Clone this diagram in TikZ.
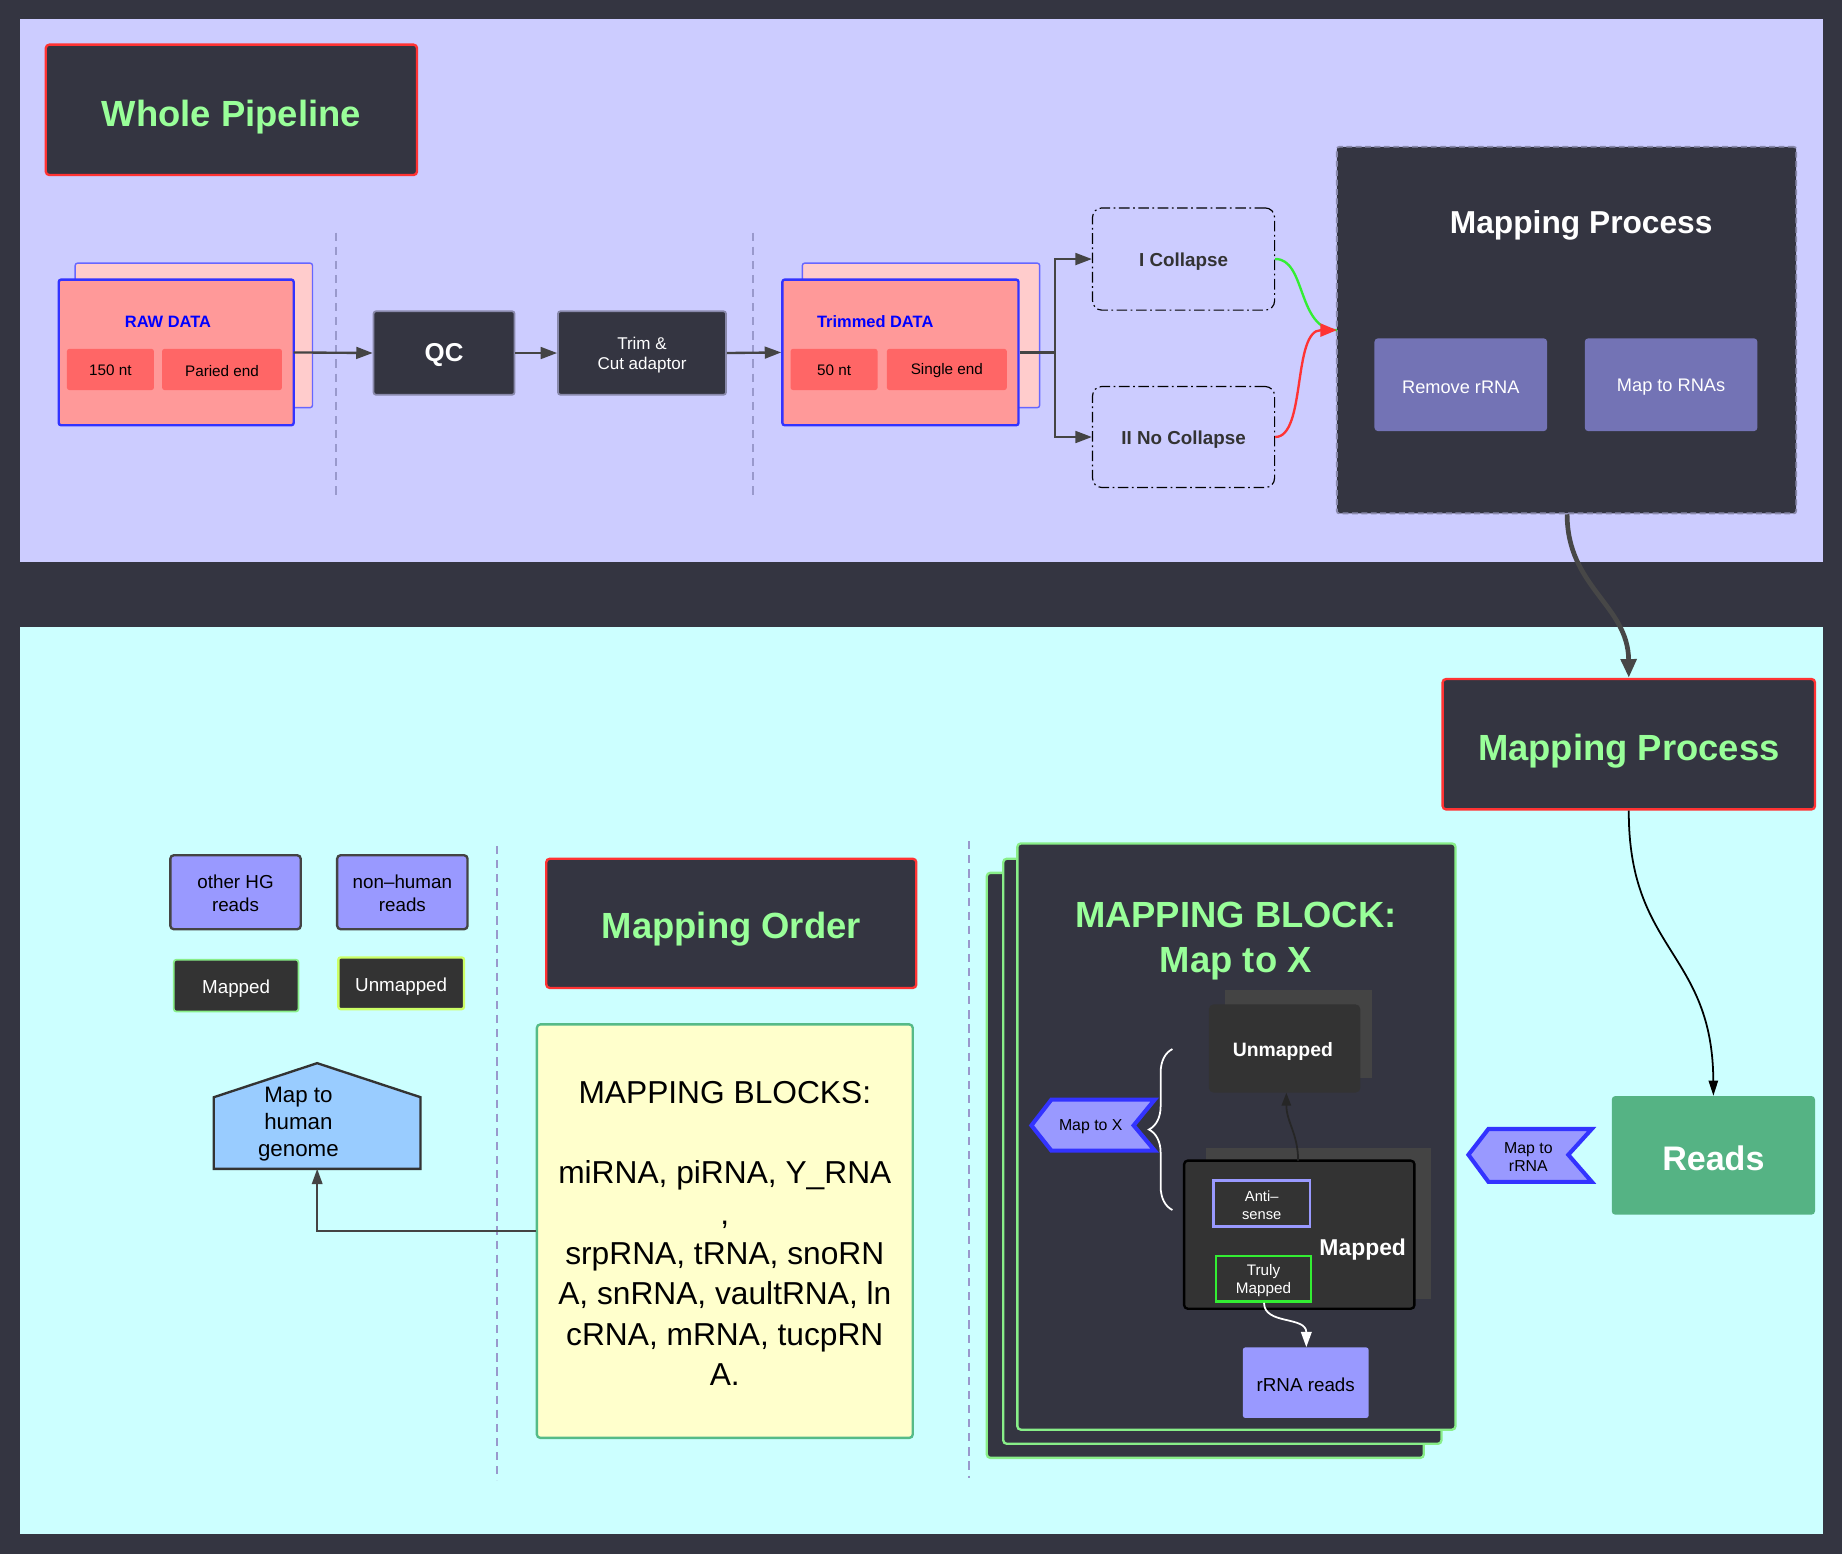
\documentclass[tikz,border=0pt]{standalone}
\usepackage{fontspec}
\setmainfont{Liberation Sans}
\usetikzlibrary{arrows.meta,fit,decorations.pathreplacing}
\definecolor{bgdark}{HTML}{343541}
\definecolor{lav}{HTML}{CCCCFF}
\definecolor{cyanbg}{HTML}{CCFFFF}
\definecolor{redb}{HTML}{FF3333}
\definecolor{greent}{HTML}{99FF99}
\definecolor{salmon}{HTML}{FF9999}
\definecolor{salmonin}{HTML}{FF6666}
\definecolor{pinkl}{HTML}{FFCCCC}
\definecolor{blueb}{HTML}{3333FF}
\definecolor{bluel}{HTML}{6666FF}
\definecolor{qcb}{HTML}{8888AA}
\definecolor{slate}{HTML}{7373B5}
\definecolor{readsg}{HTML}{55B384}
\definecolor{violet}{HTML}{9999FF}
\definecolor{mbgreen}{HTML}{88EE88}
\definecolor{gray3}{HTML}{333333}
\definecolor{gray4}{HTML}{444444}
\definecolor{sky}{HTML}{99CCFF}
\definecolor{paleyel}{HTML}{FFFFCC}
\definecolor{seagreen}{HTML}{55BB88}
\definecolor{dashc}{HTML}{9999CC}
\definecolor{arrc}{HTML}{444444}
\definecolor{limeb}{HTML}{CCFF66}
\definecolor{brightg}{HTML}{33EE33}
\newcommand\fsz[2]{\fontsize{#1}{#2}\selectfont}
\begin{document}
\begin{tikzpicture}[x=1pt,y=-1pt,
  bx/.style={inner sep=0pt, align=center, rectangle},
  lbl/.style={inner sep=0pt, align=center},
  title/.style={bx, fill=bgdark, draw=redb, line width=2pt, rounded corners=3pt},
  card/.style={bx, fill=salmon, draw=blueb, line width=2pt, rounded corners=2pt},
  cardback/.style={bx, fill=pinkl, draw=bluel, line width=1.2pt, rounded corners=2pt},
  chip/.style={bx, fill=salmonin, rounded corners=2pt},
  darkbox/.style={bx, fill=bgdark, draw=qcb, line width=1.5pt, rounded corners=2pt},
  collbox/.style={bx, draw=black, line width=1pt, rounded corners=8pt, dash pattern=on 9pt off 3pt on 1.5pt off 3pt},
  slatebox/.style={bx, fill=slate, rounded corners=3pt},
  arr/.style={draw=arrc, line width=2pt, -{Triangle[length=14pt,width=10pt]}},
  vdash/.style={draw=dashc, line width=1.5pt, dash pattern=on 7pt off 5pt},
  chev/.style={fill=violet, draw=blueb, line width=3.5pt, line join=miter},
  mbstack/.style={bx, fill=bgdark, draw=mbgreen, line width=2pt, rounded corners=3pt},
  legend/.style={bx, fill=violet, draw=gray4, line width=2pt, rounded corners=3pt},
  legdark/.style={bx, fill=gray3, line width=2pt, rounded corners=2pt},
  bigt/.style={lbl, text=greent, font=\bfseries\fsz{31}{39}}
]
\useasboundingbox (0,0) rectangle (1568,1323);
\fill[bgdark] (0,0) rectangle (1568,1323);
\fill[lav] (17,16) rectangle (1552,478);
\fill[cyanbg] (17,534) rectangle (1552,1306);

% ---------------- top panel ----------------
\node[title, fit={(39,38) (355,149)}] (whole) {};
\node[bigt] (wholet) at (197,99.5) {Whole Pipeline};

\draw[vdash] (286,198) coordinate (d1a) -- (286,421) coordinate (d1b);
\draw[vdash] (641,198) coordinate (d2a) -- (641,425) coordinate (d2b);

% raw data
\node[cardback, fit={(64,224) (266,347)}] (rawback) {};
\node[card, fit={(50,238) (250,362)}] (raw) {};
\node[lbl, text=blue, font=\bfseries\fsz{14}{17}] (rawt) at (143,274) {RAW DATA};
\node[chip, fit={(57,297) (131,332)}] (raw150) {};
\node[lbl, font=\fsz{13}{16}] (raw150t) at (94,315.5) {150 nt};
\node[chip, fit={(138,297) (240,332)}] (rawpe) {};
\node[lbl, font=\fsz{13}{16}] (rawpet) at (189,315.5) {Paried end};

\node[darkbox, fit={(318,265) (438,336)}] (qc) {};
\node[lbl, text=white, font=\bfseries\fsz{22}{26}] (qct) at (378,302.5) {QC};
\node[darkbox, fit={(475,265) (618,336)}] (trim) {};
\node[lbl, text=white, font=\fsz{14.5}{17}] (trimt) at (546.5,302) {Trim \&\\Cut adaptor};

% trimmed data
\node[cardback, fit={(683,224) (885,347)}] (trback) {};
\node[card, fit={(666,238) (867,362)}] (tr) {};
\node[lbl, text=blue, font=\bfseries\fsz{14}{17}] (trt) at (745,274) {Trimmed DATA};
\node[chip, fit={(673,297) (747,332)}] (tr50) {};
\node[lbl, font=\fsz{13}{16}] (tr50t) at (710,315.5) {50 nt};
\node[chip, fit={(755,297) (857,332)}] (trse) {};
\node[lbl, font=\fsz{13}{16}] (trset) at (806,315.5) {Single end};

\draw[arr] (250,300) -- (qc.west);
\draw[arr] (qc.east) -- (trim.west);
\draw[arr] (trim.east) -- (tr.west |- 0,300);

% collapse
\node[collbox, fit={(930,177) (1085,264)}] (c1) {};
\node[lbl, text=gray3, font=\bfseries\fsz{16}{19}] (c1t) at (1007.5,222.5) {I Collapse};
\node[collbox, fit={(930,329) (1085,415)}] (c2) {};
\node[lbl, text=gray3, font=\bfseries\fsz{16}{19}] (c2t) at (1007.5,374) {II No Collapse};
\coordinate (split) at (898,300);
\draw[draw=arrc, line width=2pt] (tr.east |- 0,300) -- (split);
\draw[arr] (split) |- (c1.west);
\draw[arr] (split) |- (c2.west);

% mapping process (top)
\node[bx, fill=bgdark, draw=qcb, line width=1.5pt, dash pattern=on 5pt off 3pt, rounded corners=2pt, fit={(1138,125) (1529,437)}] (mp1) {};
\node[lbl, text=white, font=\bfseries\fsz{27}{32}] (mp1t) at (1346,191.5) {Mapping Process};
\node[slatebox, fit={(1170,288) (1317,367)}] (rem) {};
\node[lbl, text=white, font=\fsz{15.5}{19}] (remt) at (1243.5,329.5) {Remove rRNA};
\node[slatebox, fit={(1349,288) (1496,367)}] (maprna) {};
\node[lbl, text=white, font=\fsz{15.5}{19}] (maprnat) at (1422.5,329.5) {Map to RNAs};

\coordinate (mpin) at (1138,281);
\draw[brightg, line width=2pt] (c1.east) .. controls (1112,220) and (1104,281) .. (mpin);
\draw[redb, line width=2pt, -{Triangle[length=14pt,width=11pt]}] (c2.east) .. controls (1112,372) and (1100,281) .. (mpin);

% ---------------- bottom panel ----------------
\node[title, fit={(1228,578) (1545,689)}] (mp2) {};
\node[bigt] (mp2t) at (1386.5,639.5) {Mapping Process};

\draw[draw=gray3!90!white, line width=4pt, -{Triangle[length=16pt,width=13pt]}] (mp1.south -| 1334,0) .. controls (1334,500) and (1386,515) .. (mp2.north);

\node[bx, fill=readsg, rounded corners=3pt, fit={(1372,933) (1545,1034)}] (reads) {};
\node[lbl, text=white, font=\bfseries\fsz{29}{34}] (readst) at (1458.5,986) {Reads};
\draw[black, line width=1.5pt, -{Triangle[length=13pt,width=8pt]}] (mp2.south) .. controls (1386,810) and (1458,810) .. (reads.north);

% Map to rRNA chevron
\draw[chev] (1250,983) -- (1267,961) -- (1355,961) -- (1335,983) -- (1355,1006) -- (1267,1006) -- cycle;
\node[lbl, font=\fsz{13.5}{15}] (maprrna) at (1301,985) {Map to\\rRNA};

% dashed separators
\draw[vdash] (423,720) coordinate (d3a) -- (423,1260) coordinate (d3b);
\draw[vdash] (825,716) coordinate (d4a) -- (825,1258) coordinate (d4b);

% mapping block stack
\node[mbstack, fit={(840,743) (1212,1241)}] (mb3) {};
\node[mbstack, fit={(854,731) (1227,1229)}] (mb2) {};
\node[mbstack, fit={(866,718) (1239,1217)}] (mb1) {};
\node[bigt] (mbt) at (1052,801) {MAPPING BLOCK:\\Map to X};

\node[bx, fill=gray4, fit={(1043,843) (1168,918)}] (unback) {};
\node[bx, fill=gray3, rounded corners=4pt, fit={(1029,855) (1158,930)}] (unm) {};
\node[lbl, text=white, font=\bfseries\fsz{16.5}{20}] (unmt) at (1092,895) {Unmapped};

\node[bx, fill=gray4, fit={(1027,977) (1218,1106)}] (mapback) {};
\node[bx, fill=gray3, draw=black, line width=2pt, rounded corners=3pt, fit={(1008,988) (1204,1114)}] (mapd) {};
\node[lbl, text=white, font=\bfseries\fsz{19.5}{23}] (mapdt) at (1160,1064) {Mapped};
\node[bx, draw=violet, line width=2pt, fit={(1033,1005) (1115,1044)}] (anti) {};
\node[lbl, text=white, font=\fsz{12.5}{16}] (antit) at (1074,1026) {Anti–\\sense};
\node[bx, draw=brightg, line width=2pt, fit={(1035,1069) (1116,1108)}] (truly) {};
\node[lbl, text=white, font=\fsz{13}{16}] (trulyt) at (1075.5,1090) {Truly\\Mapped};

\node[bx, fill=violet, rounded corners=2pt, fit={(1058,1147) (1165,1207)}] (rrna) {};
\node[lbl, font=\fsz{16}{19}] (rrnat) at (1111.5,1179) {rRNA reads};

\draw[draw=black!85, line width=1.5pt, -{Triangle[length=11pt,width=8pt]}] (1105,988) .. controls (1105,965) and (1095,955) .. (unm.south -| 1095,0);
\draw[white, line width=1.5pt, -{Triangle[length=13pt,width=9pt]}] (1076,1109) .. controls (1076,1128) and (1112,1120) .. (rrna.north -| 1112,0);

% Map to X chevron and brace
\draw[chev] (878,958) -- (895,936) -- (983,936) -- (965,958) -- (983,979.5) -- (895,979.5) -- cycle;
\node[lbl, font=\fsz{13.5}{16}] (maptox) at (928.5,959.5) {Map to X};
\coordinate (brb) at (998,1030);
\coordinate (brt) at (998,893);
\draw[white, line width=1.5pt, decorate, decoration={brace, amplitude=20pt}] (brb) -- (brt);

% legend
\node[legend, fit={(145,728) (256,791)}] (hg) {};
\node[lbl, font=\fsz{16}{19}] (hgt) at (200.5,760.5) {other HG\\reads};
\node[legend, fit={(287,728) (398,791)}] (nh) {};
\node[lbl, font=\fsz{16}{19}] (nht) at (342.5,760.5) {non–human\\reads};
\node[legdark, draw=mbgreen, line width=1.5pt, fit={(148,817) (254,861)}] (lm) {};
\node[lbl, text=white, font=\fsz{16}{19}] (lmt) at (201,841.5) {Mapped};
\node[legdark, draw=limeb, fit={(288,815) (395,859)}] (lu) {};
\node[lbl, text=white, font=\fsz{16}{19}] (lut) at (341.5,839.5) {Unmapped};

% house
\draw[fill=sky, draw=gray3, line width=2pt, line join=miter] (182,995) -- (182,934) -- (270,905) -- (358,934) -- (358,995) -- cycle;
\coordinate (housebot) at (270,995);
\node[lbl, font=\fsz{19}{23}] (house) at (254,957) {Map to\\human\\genome};

% mapping order
\node[title, fit={(465,731) (780,841)}] (order) {};
\node[bigt] (ordert) at (622.5,791) {Mapping Order};

\node[bx, fill=paleyel, draw=seagreen, line width=2pt, rounded corners=3pt, fit={(457,872) (777,1224)}] (blocks) {};
\node[lbl, font=\fsz{27}{34.3}] (blockst) at (617,1050) {MAPPING BLOCKS:\\[34pt]miRNA, piRNA, Y\_RNA\\,\\srpRNA, tRNA, snoRN\\A, snRNA, vaultRNA, ln\\cRNA, mRNA, tucpRN\\A.};

\draw[draw=arrc, line width=1.5pt, -{Triangle[length=13pt,width=9pt]}] (blocks.west |- 0,1048) -| (housebot);
\end{tikzpicture}
\end{document}
